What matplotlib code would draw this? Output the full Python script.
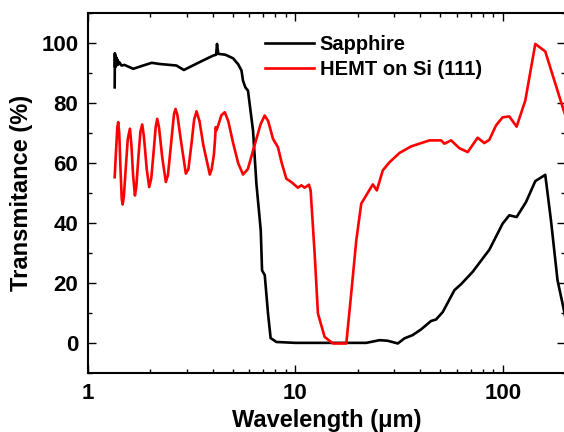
import matplotlib
matplotlib.use("Agg")
import matplotlib.pyplot as plt
from matplotlib.ticker import FixedLocator, LogLocator, NullFormatter, FixedFormatter

plt.rcParams["font.family"] = ["Liberation Sans", "DejaVu Sans"]
plt.rcParams["font.weight"] = "bold"

# Sapphire substrate transmittance
sapphire_wl = [1.345, 1.348, 1.352, 1.356, 1.360, 1.365, 1.370, 1.376, 1.383, 1.392,
               1.405, 1.42, 1.45, 1.50, 1.652, 1.846, 2.03, 2.222, 2.67, 2.90,
               3.40, 4.01, 4.15, 4.19, 4.25, 4.6, 5.01, 5.30, 5.50, 5.59,
               5.74, 5.91, 6.25, 6.49, 6.81, 6.91, 7.12, 7.38, 7.60, 8.10,
               10.0, 15.0, 21.98, 25.5, 27.9, 31.2, 33.6, 36.8, 40.4, 45.1,
               47.7, 51.4, 58.5, 63.0, 71.6, 86.2, 99.9, 107.6, 116.7, 129.5,
               143.6, 160.4, 170.9, 183.8, 195.9, 205.0]
sapphire_t = [85.3, 96.7, 92.0, 96.0, 92.4, 95.5, 92.6, 95.0, 92.8, 94.4,
              93.0, 93.6, 92.6, 92.8, 91.5, 92.6, 93.5, 93.1, 92.6, 91.1,
              93.5, 95.9, 96.2, 99.8, 96.5, 96.2, 95.0, 93.0, 90.9, 87.6,
              85.3, 84.2, 70.9, 53.1, 37.6, 24.2, 22.6, 9.9, 1.6, 0.3,
              0.0, 0.0, 0.0, 0.9, 0.7, -0.2, 1.5, 2.6, 4.5, 7.3,
              7.8, 10.3, 17.6, 19.6, 23.7, 31.1, 39.8, 42.6, 42.0, 47.0,
              54.0, 56.1, 40.9, 20.9, 12.0, 5.0]

# GaN HEMT layers on Si(111) transmittance
hemt_wl = [1.345, 1.37, 1.385, 1.399, 1.415, 1.435, 1.455, 1.47, 1.49, 1.52,
           1.555, 1.593, 1.62, 1.65, 1.684, 1.71, 1.75, 1.79, 1.826, 1.86,
           1.92, 1.973, 2.02, 2.08, 2.12, 2.157, 2.2, 2.28, 2.374, 2.43,
           2.52, 2.6, 2.644, 2.7, 2.8, 2.964, 3.05, 3.15, 3.25, 3.337,
           3.45, 3.6, 3.868, 3.95, 4.05, 4.10, 4.13, 4.166, 4.241, 4.4,
           4.567, 4.75, 5.0, 5.3, 5.594, 5.9, 6.3, 6.8, 7.115, 7.4,
           7.803, 8.246, 8.6, 9.05, 9.56, 10.29, 10.69, 11.09, 11.63, 11.85,
           12.39, 12.85, 13.84, 15.17, 17.61, 18.60, 19.67, 20.79, 23.64, 24.71,
           26.41, 28.45, 31.78, 36.19, 40.44, 44.34, 50.47, 52.35, 56.38, 61.80,
           67.77, 75.72, 81.53, 86.19, 92.84, 99.9, 107.6, 116.7, 128.5, 143.6,
           160.4, 195.8, 205.0]
hemt_t = [55.3, 66.0, 72.0, 73.7, 70.0, 58.0, 48.0, 46.2, 49.0, 58.0,
          68.0, 71.5, 66.0, 56.0, 49.2, 52.0, 62.0, 70.5, 72.9, 69.0,
          58.0, 52.0, 55.0, 65.0, 72.0, 74.8, 72.0, 62.0, 53.7, 56.0,
          67.0, 76.5, 78.1, 76.0, 68.0, 56.5, 58.0, 66.0, 74.5, 77.3,
          74.0, 66.0, 56.2, 58.0, 63.0, 68.0, 72.0, 71.0, 72.5, 76.0,
          77.0, 74.0, 67.0, 60.0, 56.2, 58.0, 65.0, 73.0, 75.9, 74.0,
          68.1, 65.3, 60.0, 54.8, 53.7, 51.8, 52.6, 51.8, 52.8, 50.9,
          29.8, 9.8, 2.0, -0.2, -0.2, 16.5, 34.2, 46.5, 52.9, 50.9,
          57.6, 60.3, 63.4, 65.6, 66.7, 67.6, 67.6, 66.5, 67.6, 65.0,
          63.7, 68.5, 66.7, 67.8, 72.6, 75.3, 75.6, 72.2, 80.9, 99.8,
          97.3, 78.1, 74.0]

x_major = [1, 10, 100]
x_major_labels = ["1", "10", "100"]
y_major = [0, 20, 40, 60, 80, 100]

fig = plt.figure(figsize=(5.64, 4.32), dpi=100)
ax = fig.add_axes([0.156, 0.137, 0.846, 0.832])

ax.plot(sapphire_wl, sapphire_t, color="black", lw=1.9, label="Sapphire")
ax.plot(hemt_wl, hemt_t, color="#ff0000", lw=1.9, label="HEMT on Si (111)")

ax.set_xscale("log")
ax.set_xlim(1, 200)
ax.set_ylim(-10, 110)
ax.xaxis.set_major_locator(FixedLocator(x_major))
ax.xaxis.set_major_formatter(FixedFormatter(x_major_labels))
ax.xaxis.set_minor_locator(LogLocator(base=10, subs=range(2, 10)))
ax.xaxis.set_minor_formatter(NullFormatter())
ax.yaxis.set_major_locator(FixedLocator(y_major))
ax.yaxis.set_minor_locator(FixedLocator([-10, 10, 30, 50, 70, 90, 110]))

ax.tick_params(which="both", direction="in", top=True, right=True, width=1.0)
ax.tick_params(which="major", length=6, labelsize=16, pad=7)
ax.tick_params(which="minor", length=3)
for s in ax.spines.values():
    s.set_linewidth(1.5)

ax.set_xlabel("Wavelength (\u03bcm)", fontsize=17, fontweight="bold", labelpad=4)
ax.set_ylabel("Transmitance (%)", fontsize=17, fontweight="bold", labelpad=6)

ax.legend(loc="upper left", bbox_to_anchor=(0.363, 0.95), frameon=False,
          fontsize=14.5, handlelength=2.4, handletextpad=0.3, labelspacing=0.3,
          borderaxespad=0, borderpad=0.2)

fig.savefig("out.png", dpi=100)
